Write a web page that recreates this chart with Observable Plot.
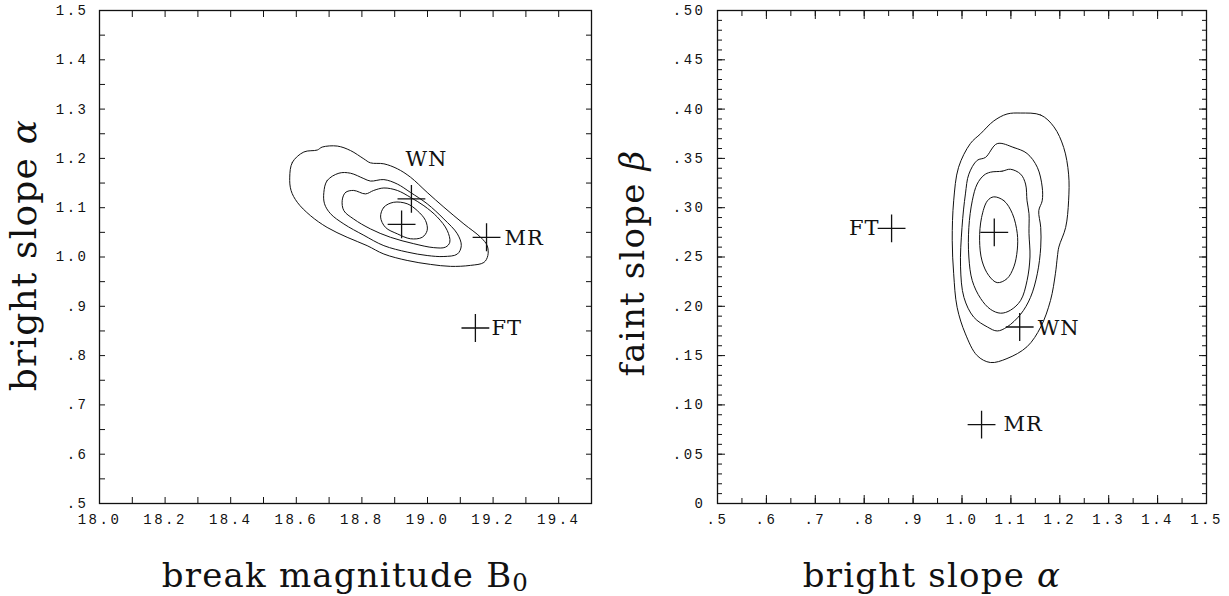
<!DOCTYPE html>
<html><head><meta charset="utf-8">
<script src="https://cdn.jsdelivr.net/npm/d3@7"></script>
<script src="https://cdn.jsdelivr.net/npm/@observablehq/plot@0.6"></script>
<style>
body{margin:0;background:#fff;}
#wrap{position:relative;width:1229px;height:596px;overflow:hidden;}
#left{position:absolute;left:0;top:0;}
#right{position:absolute;left:600px;top:0;}
</style></head><body><div id="wrap"><div id="left"></div><div id="right"></div></div>
<script>
// ---- fitted points: break magnitude B0, bright slope alpha, faint slope beta
const fitNames = ["best", "WN", "MR", "FT"];
const fitB0    = [18.921, 18.951, 19.180, 19.146];
const fitAlpha = [1.066, 1.118, 1.040, 0.856];
const fitBeta  = [0.275, 0.179, 0.080, 0.279];

// ---- likelihood contours, left panel (B0, alpha)
const leftC1 = [[18.857,1.081],[18.867,1.101],[18.897,1.111],[18.938,1.108],[18.969,1.094],[18.994,1.074],[18.999,1.054],[18.984,1.040],[18.948,1.037],[18.908,1.047],[18.872,1.060]];
const leftC2 = [[18.740,1.115],[18.750,1.131],[18.775,1.135],[18.811,1.128],[18.836,1.135],[18.867,1.140],[18.908,1.135],[18.948,1.121],[18.989,1.104],[19.030,1.081],[19.060,1.054],[19.068,1.030],[19.055,1.020],[19.019,1.019],[18.958,1.027],[18.887,1.040],[18.826,1.057],[18.775,1.077],[18.745,1.094]];
const leftC3 = [[18.684,1.131],[18.694,1.155],[18.730,1.170],[18.765,1.170],[18.806,1.159],[18.826,1.154],[18.867,1.157],[18.908,1.148],[18.948,1.131],[18.999,1.108],[19.050,1.077],[19.091,1.047],[19.103,1.023],[19.091,1.006],[19.050,1.001],[18.999,1.003],[18.938,1.010],[18.867,1.023],[18.806,1.044],[18.745,1.067],[18.704,1.088],[18.686,1.108]];
const leftC4 = [[18.580,1.162],[18.588,1.192],[18.623,1.213],[18.664,1.217],[18.679,1.223],[18.725,1.225],[18.765,1.216],[18.806,1.199],[18.826,1.191],[18.867,1.189],[18.908,1.179],[18.948,1.162],[18.999,1.131],[19.050,1.101],[19.111,1.067],[19.162,1.040],[19.182,1.023],[19.184,1.003],[19.172,0.989],[19.131,0.983],[19.070,0.981],[19.009,0.985],[18.938,0.993],[18.867,1.006],[18.816,1.023],[18.755,1.040],[18.694,1.060],[18.643,1.084],[18.603,1.111],[18.584,1.135]];

// ---- likelihood contours, right panel (alpha, beta)
const rightC1 = [[1.065,0.311],[1.086,0.307],[1.103,0.294],[1.113,0.274],[1.113,0.257],[1.106,0.240],[1.092,0.228],[1.072,0.224],[1.055,0.231],[1.041,0.246],[1.036,0.267],[1.040,0.290],[1.052,0.307]];
const rightC2 = [[1.058,0.336],[1.082,0.337],[1.099,0.339],[1.120,0.334],[1.130,0.324],[1.133,0.307],[1.137,0.294],[1.137,0.274],[1.139,0.250],[1.133,0.226],[1.120,0.206],[1.099,0.196],[1.079,0.193],[1.058,0.197],[1.038,0.208],[1.021,0.226],[1.014,0.250],[1.014,0.280],[1.021,0.307],[1.031,0.324],[1.045,0.333]];
const rightC3 = [[1.072,0.365],[1.106,0.361],[1.133,0.355],[1.154,0.341],[1.164,0.321],[1.164,0.307],[1.157,0.297],[1.161,0.280],[1.161,0.260],[1.154,0.233],[1.140,0.209],[1.120,0.192],[1.092,0.179],[1.072,0.175],[1.052,0.179],[1.024,0.189],[1.004,0.209],[0.997,0.240],[1.000,0.280],[1.007,0.314],[1.014,0.334],[1.031,0.348],[1.048,0.351]];
const rightC4 = [[1.120,0.396],[1.161,0.394],[1.188,0.382],[1.208,0.361],[1.218,0.334],[1.218,0.307],[1.212,0.280],[1.198,0.260],[1.195,0.250],[1.191,0.233],[1.181,0.206],[1.161,0.179],[1.133,0.159],[1.092,0.147],[1.058,0.143],[1.031,0.150],[1.007,0.172],[0.990,0.199],[0.983,0.233],[0.980,0.267],[0.983,0.307],[0.993,0.341],[1.017,0.365],[1.038,0.375],[1.065,0.388],[1.092,0.395]];

// ---- ticks and tick labels
const leftXTicks  = [18.0, 18.2, 18.4, 18.6, 18.8, 19.0, 19.2, 19.4];
const leftXLabels = ["18.0","18.2","18.4","18.6","18.8","19.0","19.2","19.4"];
const leftYTicks  = [0.5, 0.6, 0.7, 0.8, 0.9, 1.0, 1.1, 1.2, 1.3, 1.4, 1.5];
const leftYLabels = [".5",".6",".7",".8",".9","1.0","1.1","1.2","1.3","1.4","1.5"];
const rightXTicks  = [0.5, 0.6, 0.7, 0.8, 0.9, 1.0, 1.1, 1.2, 1.3, 1.4, 1.5];
const rightXLabels = [".5",".6",".7",".8",".9","1.0","1.1","1.2","1.3","1.4","1.5"];
const rightYTicks  = [0, 0.05, 0.10, 0.15, 0.20, 0.25, 0.30, 0.35, 0.40, 0.45, 0.50];
const rightYLabels = ["0",".05",".10",".15",".20",".25",".30",".35",".40",".45",".50"];

const xTitles = ["break magnitude B0", "bright slope \u03b1"];
const yTitles = ["bright slope \u03b1", "faint slope \u03b2"];
const pointLabels = ["WN", "MR", "FT"];

// ---- helpers
const fits = fitNames.map((n, i) => ({name: n, B0: fitB0[i], alpha: fitAlpha[i], beta: fitBeta[i]}));
const byName = n => fits.filter(d => d.name === n);
const fmt = (vals, labs) => { const m = new Map(); vals.forEach((v, i) => m.set(v, labs[i])); return d => m.has(d) ? m.get(d) : ""; };
const rnd = v => Math.round(v * 1000) / 1000;
const leftXMinor  = d3.range(0, 16).map(i => rnd(18 + i * 0.1));
const leftYMinor  = d3.range(0, 21).map(i => rnd(0.5 + i * 0.05));
const rightXMajor = d3.range(0, 11).map(i => rnd(0.5 + i * 0.1));
const rightXMinor = d3.range(0, 21).map(i => rnd(0.5 + i * 0.05));
const rightYMajor = d3.range(0, 11).map(i => rnd(i * 0.05));
const rightYMinor = d3.range(0, 51).map(i => rnd(i * 0.01));

const INK = "#111";
const serif = "DejaVu Serif";
const empty = () => "";

function tickMarks(xs, ys, xLen, yLen) {
  return [
    Plot.axisX(xs, {anchor: "bottom", tickSize: -xLen, tickFormat: empty, label: null, stroke: INK}),
    Plot.axisX(xs, {anchor: "top", tickSize: -xLen, tickFormat: empty, label: null, stroke: INK}),
    Plot.axisY(ys, {anchor: "left", tickSize: -yLen, tickFormat: empty, label: null, stroke: INK}),
    Plot.axisY(ys, {anchor: "right", tickSize: -yLen, tickFormat: empty, label: null, stroke: INK})
  ];
}
const contour = (pts) => Plot.line(pts, {x: d => d[0], y: d => d[1], curve: "catmull-rom-closed", stroke: INK, strokeWidth: 1});
const cross = (xk, yk) => Plot.dot(fits, {x: xk, y: yk, symbol: "plus", r: 9, stroke: INK, fill: "none", strokeWidth: 1.3});
const lab = (name, xk, yk, opts) => Plot.text(byName(name), {x: xk, y: yk, text: "name", fontFamily: serif, fontSize: 21, fill: INK, lineAnchor: "middle", ...opts});
const title = (s, opts) => Plot.text([s], {lineAnchor: "bottom", textAnchor: "middle", fontFamily: serif, fontSize: 34, fill: INK, ...opts});

const common = {
  height: 596, marginTop: 10, marginBottom: 93,
  style: {fontFamily: "Liberation Mono", fontSize: "14px", letterSpacing: "2.5px", color: INK, background: "white"}
};

const left = Plot.plot({
  ...common,
  width: 600, marginLeft: 99, marginRight: 9,
  x: {domain: [18, 19.5]}, y: {domain: [0.5, 1.5]},
  marks: [
    ...tickMarks(leftXMinor, leftYMinor, 6, 6),
    Plot.axisX(leftXTicks, {anchor: "bottom", tickSize: 0, tickPadding: 11, tickFormat: fmt(leftXTicks, leftXLabels), label: null}),
    Plot.axisY(leftYTicks, {anchor: "left", tickSize: 0, tickPadding: 11, tickFormat: fmt(leftYTicks, leftYLabels), label: null}),
    Plot.frame({stroke: INK, strokeWidth: 1.3}),
    contour(leftC1), contour(leftC2), contour(leftC3), contour(leftC4),
    cross("B0", "alpha"),
    lab("WN", "B0", "alpha", {dx: 15, dy: -40, textAnchor: "middle"}),
    lab("MR", "B0", "alpha", {dx: 18, dy: 1, textAnchor: "start"}),
    lab("FT", "B0", "alpha", {dx: 16, dy: 0, textAnchor: "start"}),
    title(xTitles[0], {frameAnchor: "bottom", dy: 83, dx: 0}),
    title(yTitles[0], {frameAnchor: "left", dx: -64, dy: -2, rotate: -90, fontSize: 36})
  ]
});

const right = Plot.plot({
  ...common,
  width: 629, marginLeft: 117, marginRight: 23,
  x: {domain: [0.5, 1.5]}, y: {domain: [0, 0.5]},
  marks: [
    ...tickMarks(rightXMinor, rightYMinor, 5, 5),
    ...tickMarks(rightXMajor, rightYMajor, 8, 8),
    Plot.axisX(rightXTicks, {anchor: "bottom", tickSize: 0, tickPadding: 11, tickFormat: fmt(rightXTicks, rightXLabels), label: null}),
    Plot.axisY(rightYTicks, {anchor: "left", tickSize: 0, tickPadding: 12, tickFormat: fmt(rightYTicks, rightYLabels), label: null}),
    Plot.frame({stroke: INK, strokeWidth: 1.3}),
    contour(rightC1), contour(rightC2), contour(rightC3), contour(rightC4),
    cross("alpha", "beta"),
    lab("FT", "alpha", "beta", {dx: -12, dy: 0, textAnchor: "end"}),
    lab("WN", "alpha", "beta", {dx: 18, dy: 1, textAnchor: "start"}),
    lab("MR", "alpha", "beta", {dx: 22, dy: 0, textAnchor: "start"}),
    title(xTitles[1], {frameAnchor: "bottom", dy: 83, dx: -30}),
    title(yTitles[1], {frameAnchor: "left", dx: -74, dy: 6, rotate: -90})
  ]
});

function rich(svg) {
  d3.select(svg).selectAll("text").each(function () {
    const t = this.textContent;
    const sel = d3.select(this);
    if (pointLabels.includes(t)) { sel.style("letter-spacing", "1px"); return; }
    const parts = [];
    if (t === xTitles[0]) { parts.push({t: "break magnitude B"}, {t: "0", sub: true}); }
    else if (t === "bright slope \u03b1") { parts.push({t: "bright slope "}, {t: "\u03b1", it: true}); }
    else if (t === "faint slope \u03b2") { parts.push({t: "faint slope "}, {t: "\u03b2", it: true}); }
    else return;
    sel.style("letter-spacing", "1.2px");
    sel.text(null);
    parts.forEach(p => {
      const s = sel.append("tspan").text(p.t);
      if (p.it) s.attr("font-style", "italic");
      if (p.sub) s.attr("font-size", "0.72em").attr("dy", "0.18em");
    });
  });
}
rich(left); rich(right);
document.getElementById("left").appendChild(left);
document.getElementById("right").appendChild(right);
</script>
</body></html>
